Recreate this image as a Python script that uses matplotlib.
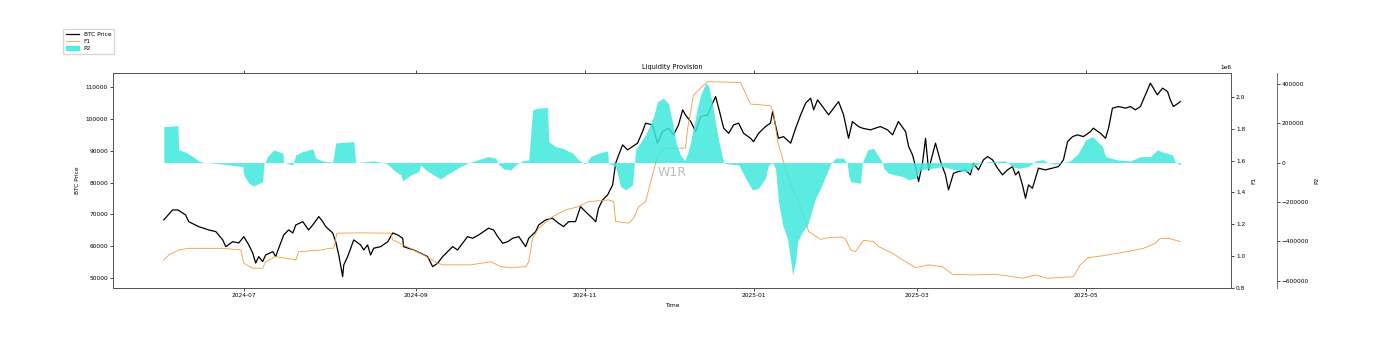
import pandas as pd
import matplotlib
matplotlib.use("Agg")
import matplotlib.pyplot as plt
import matplotlib.dates as mdates
from matplotlib.patches import Patch
from matplotlib.lines import Line2D

# --- data (days counted from start_date) ---
start_date = pd.Timestamp("2024-06-02")

btc_day = [0, 3.2, 5.1, 7.9, 9.0, 12.6, 16.2, 18.8, 21.3, 22.4, 24.9, 27.1, 28.9, 30.7,
           32.1, 33.2, 34.3, 35.7, 36.8, 39.4, 40.4, 41.5, 43.3, 45.1, 46.6, 47.7, 50.2,
           52.3, 53.8, 56.0, 57.4, 58.5, 61.0, 62.1, 63.2, 64.6, 65.0, 66.4, 67.5, 68.6,
           71.1, 72.2, 73.6, 74.7, 75.8, 78.3, 80.9, 82.7, 84.5, 86.3, 86.6, 88.4, 90.3,
           92.8, 95.3, 97.1, 98.9, 100.7, 102.5, 104.3, 106.1, 107.9, 109.7, 111.6, 113.7,
           115.5, 117.3, 119.1, 120.6, 122.4, 124.2, 126.0, 128.2, 130.7, 131.8, 134.3,
           135.4, 137.9, 140.4, 142.6, 144.4, 146.2, 148.7, 150.5, 152.3, 154.2, 156.0,
           157.0, 158.5, 160.3, 162.1, 163.2, 164.3, 165.7, 167.5, 169.3, 171.1, 172.9,
           174.0, 176.5, 178.3, 180.1, 182.3, 184.1, 185.9, 187.4, 188.4, 190.3, 192.1,
           193.9, 196.4, 198.2, 199.3, 200.4, 202.2, 204.0, 205.8, 207.6, 209.4, 211.9,
           213.0, 214.8, 217.3, 219.1, 219.9, 220.9, 222.0, 223.8, 226.4, 228.2, 230.0,
           231.8, 233.6, 234.7, 236.1, 237.9, 240.1, 241.9, 243.7, 245.5, 247.3, 248.7,
           250.9, 252.3, 255.2, 257.0, 258.8, 261.4, 263.2, 265.3, 267.9, 269.0, 270.4,
           271.5, 272.6, 274.0, 275.1, 276.2, 277.6, 278.7, 280.5, 282.3, 283.4, 285.2,
           287.0, 289.5, 291.3, 292.4, 294.2, 296.0, 297.5, 299.3, 301.1, 302.9, 304.7,
           306.5, 307.6, 308.7, 310.1, 311.2, 312.3, 313.7, 314.8, 315.9, 318.4, 320.9,
           323.1, 324.9, 326.4, 328.2, 330.0, 332.1, 334.7, 335.7, 338.3, 340.1, 341.2,
           342.6, 344.8, 347.3, 349.1, 350.9, 352.7, 354.5, 356.3, 357.4, 358.8, 360.7,
           362.5, 363.5, 364.6, 366.4, 367.1]
btc_price = [68240, 71380, 71380, 69800, 67700, 66130, 65100, 64560, 61950, 59840, 61400,
             61000, 62990, 60380, 57860, 54700, 56700, 55130, 57230, 58270, 56700, 59340,
             63500, 65100, 64150, 66660, 67700, 65100, 66660, 69280, 67700, 66130, 64150,
             61400, 57230, 50420, 54090, 56700, 59340, 61950, 60380, 58800, 60380, 57230,
             59340, 59840, 61400, 64150, 63500, 62480, 59840, 59340, 58800, 57770, 56700,
             53560, 54620, 56700, 58270, 59840, 58800, 60900, 62990, 62480, 63500, 64560,
             65630, 65100, 62990, 60900, 61400, 62480, 62990, 59840, 62480, 64560, 66660,
             68240, 68770, 67180, 66130, 67700, 67700, 72420, 70850, 69280, 67700, 71900,
             74530, 76100, 79250, 86070, 88680, 91820, 90250, 91290, 92360, 96000, 98650,
             98110, 92360, 96000, 97080, 94970, 98110, 102830, 101260, 99150, 96000, 100720,
             101260, 104940, 107010, 103360, 97080, 95470, 98110, 98650, 95470, 93900,
             92830, 95470, 97580, 98650, 102330, 98110, 93900, 94430, 92360, 97080, 101260,
             104940, 106510, 102830, 105970, 103880, 101260, 103360, 105440, 101260, 93900,
             99150, 97580, 97080, 96540, 97080, 97580, 96540, 94970, 99150, 96000, 91290,
             88680, 85000, 80280, 86070, 93900, 83960, 88680, 92360, 86660, 82390, 77670,
             82920, 83460, 83960, 82390, 86070, 83960, 87110, 88140, 87110, 84510, 82390,
             83960, 85000, 82390, 83460, 79250, 75060, 79250, 78210, 81350, 84510, 83960,
             84510, 85000, 87110, 92830, 94430, 94970, 94430, 96000, 97080, 95470, 93900,
             97080, 103360, 103880, 103360, 103880, 102830, 103880, 107550, 111230, 109650,
             107550, 109650, 108590, 105970, 103880, 104940, 105440]

f1_day = [0, 1.8, 5.4, 9.0, 21.3, 27.8, 28.9, 32.1, 35.7, 36.8, 40.4, 47.7, 48.7, 57.4,
          59.6, 61.4, 62.5, 71.1, 81.9, 82.7, 86.6, 93.9, 98.9, 101.1, 110.8, 118.1, 121.7,
          125.3, 130.7, 131.8, 133.2, 135.4, 140.4, 145.1, 149.8, 153.4, 160.6, 162.5, 163.2,
          167.9, 169.7, 171.5, 174.0, 176.5, 178.3, 180.1, 182.3, 188.4, 189.2, 191.3, 196.4,
          208.3, 211.9, 219.1, 220.2, 221.7, 223.8, 226.4, 229.2, 231.0, 232.9, 234.7, 237.2,
          239.7, 244.4, 246.2, 248.0, 249.8, 252.7, 256.3, 258.1, 263.2, 266.8, 271.5, 276.2,
          281.2, 284.8, 292.1, 300.4, 306.5, 310.1, 314.8, 319.1, 328.5, 331.0, 333.9, 340.8,
          348.0, 353.8, 358.1, 359.9, 362.9, 367.1]
f1_value = [0.976, 1.007, 1.039, 1.049, 1.049, 1.039, 0.955, 0.924, 0.924, 0.965, 0.997,
            0.976, 1.028, 1.039, 1.049, 1.050, 1.144, 1.146, 1.144, 1.102, 1.070, 1.007,
            0.955, 0.945, 0.945, 0.965, 0.934, 0.928, 0.934, 0.965, 1.112, 1.175, 1.248,
            1.290, 1.311, 1.342, 1.353, 1.342, 1.217, 1.207, 1.238, 1.311, 1.342, 1.510,
            1.625, 1.667, 1.678, 1.678, 1.800, 2.013, 2.096, 2.090, 1.955, 1.945, 1.900,
            1.719, 1.594, 1.447, 1.342, 1.259, 1.154, 1.133, 1.105, 1.115, 1.120, 1.110,
            1.039, 1.028, 1.100, 1.091, 1.060, 1.018, 0.976, 0.928, 0.945, 0.934, 0.886,
            0.882, 0.886, 0.871, 0.861, 0.882, 0.861, 0.871, 0.945, 0.990, 1.007, 1.028,
            1.049, 1.081, 1.112, 1.112, 1.091]
f1_value = [v * 1e6 for v in f1_value]

p2_day = [0, 5.1, 5.4, 7.9, 10.5, 12.6, 14.1, 21.3, 28.5, 28.9, 30.7, 32.5, 35.7, 36.1,
          37.5, 39.7, 43.0, 43.3, 46.6, 47.7, 50.2, 53.8, 54.9, 57.4, 61.0, 62.1, 68.6,
          69.3, 75.8, 79.4, 81.2, 83.0, 85.6, 86.3, 89.2, 92.1, 92.8, 94.6, 97.5, 100.0,
          102.5, 106.1, 109.7, 113.4, 117.0, 119.9, 120.9, 122.7, 125.3, 127.1, 129.6,
          131.8, 133.2, 135.0, 138.6, 139.0, 141.5, 144.0, 147.7, 149.8, 152.3, 154.2,
          157.0, 160.3, 160.6, 163.2, 165.0, 166.8, 169.3, 170.4, 174.0, 176.9, 178.3,
          180.5, 182.3, 183.8, 185.2, 186.6, 188.1, 189.2, 190.3, 192.8, 193.9, 195.7,
          196.8, 198.2, 200.0, 201.8, 202.5, 207.6, 208.3, 210.8, 212.6, 214.8, 217.3,
          218.4, 219.9, 220.9, 222.0, 223.5, 225.3, 227.1, 228.2, 228.9, 230.7, 232.5,
          233.6, 235.4, 237.2, 239.7, 240.8, 242.6, 245.5, 246.9, 247.3, 248.0, 251.6,
          252.3, 254.2, 256.3, 257.8, 259.6, 260.0, 261.7, 264.3, 266.8, 269.0, 271.5,
          273.3, 277.6, 281.2, 285.9, 290.6, 293.1, 297.8, 304.0, 306.5, 308.7, 312.3,
          314.8, 317.7, 319.1, 322.0, 324.9, 327.4, 330.3, 332.9, 335.4, 337.2, 339.0,
          340.1, 344.4, 349.1, 352.7, 356.3, 358.8, 361.0, 364.3, 365.4, 367.1]
p2_value = [183000, 188000, 65000, 53000, 30500, 8700, 2000, -8000, -20000, -62000,
            -105000, -119000, -97000, -12000, 30000, 65000, 48000, 2000, -12000, 39000,
            56000, 70000, 22000, 8700, 2000, 100000, 107000, 0, 8700, 0, -12000, -37000,
            -63000, -93000, -63000, -46000, -12000, -37000, -63000, -83000, -59000, -28500,
            -3000, 13700, 30500, 22400, -8000, -32000, -37000, -12000, 8700, 13700, 268000,
            277000, 280000, 107000, 81500, 73000, 48000, 13700, -8000, 30500, 48000, 60000,
            0, -20000, -122000, -139000, -113000, 65000, 141000, 234000, 310000, 328000,
            300000, 200000, 90000, 40000, 10000, 48000, 107000, 285000, 345000, 404000,
            390000, 294000, 141000, 22000, -5000, -12000, -28500, -97000, -139000, -130000,
            -79000, -12000, -3000, -28500, -198000, -317000, -390000, -572000, -504000,
            -402000, -351000, -317000, -266000, -181000, -130000, -46000, -8000, 22400,
            22400, -8000, -63000, -97000, -105000, 0, 65000, 73000, 39000, 0, -28500,
            -54000, -63000, -71000, -88000, -79000, -37000, -28500, -20400, -37000, -46000,
            -12000, 5000, 8700, -20400, -28500, -20400, 8700, 15000, 0, -8000, 0, 8700,
            48000, 115000, 132000, 107000, 81500, 30500, 13700, 8700, 30500, 30500, 65000,
            53000, 39000, 0, -12000]

btc_dates = start_date + pd.to_timedelta(btc_day, unit="D")
f1_dates = start_date + pd.to_timedelta(f1_day, unit="D")
p2_dates = start_date + pd.to_timedelta(p2_day, unit="D")

fs = 4.2
plt.rcParams["font.size"] = fs
p2_color = "#3ee8dc"

fig = plt.figure(figsize=(13.74, 3.42), dpi=100)
ax1 = fig.add_axes([0.0822, 0.158, 0.8138, 0.629])

ax1.plot(btc_dates, btc_price, color="black", lw=0.9)
ax1.set_ylim(46855, 114465)
ax1.set_ylabel("BTC Price", fontsize=fs)
ax1.set_xlabel("Time", fontsize=fs)
ax1.set_title("Liquidity Provision", fontsize=fs + 0.6, pad=3)
ax1.xaxis.set_major_locator(mdates.MonthLocator(bymonth=[1, 3, 5, 7, 9, 11]))
ax1.xaxis.set_major_formatter(mdates.DateFormatter("%Y-%m"))
ax1.tick_params(labelsize=fs, length=2, width=0.5, pad=1.5)
ax1.tick_params(axis="x", top=True)

ax2 = ax1.twinx()
ax2.plot(f1_dates, f1_value, color="#f59a3c", lw=0.6)
ax2.set_ylim(0.8e6, 2.151e6)
ax2.set_ylabel("F1", fontsize=fs)
ax2.tick_params(labelsize=fs, length=2, width=0.5, pad=1.5)
ax2.yaxis.get_offset_text().set_fontsize(fs)

ax3 = ax1.twinx()
ax3.spines["right"].set_position(("axes", 1.041))
ax3.fill_between(p2_dates, p2_value, 0, color=p2_color, alpha=0.85, lw=0)
ax3.set_ylim(-637900, 456700)
ax3.set_ylabel("P2", fontsize=fs)
ax3.tick_params(labelsize=fs, length=2, width=0.5, pad=1.5)

for ax in (ax1, ax2, ax3):
    for sp in ax.spines.values():
        sp.set_linewidth(0.6)
        sp.set_color("#555555")

fig.text(0.489, 0.497, "W1R", fontsize=9, color="#aaaaaa", alpha=0.8,
         ha="center", va="center")

handles = [Line2D([], [], color="black", lw=0.9),
           Line2D([], [], color="#f59a3c", lw=0.6),
           Patch(color=p2_color, alpha=0.85)]
fig.legend(handles, ["BTC Price", "F1", "P2"], loc="upper left",
           bbox_to_anchor=(0.044, 0.925), fontsize=fs, frameon=True,
           handlelength=2.2, borderpad=0.5, labelspacing=0.35)

fig.savefig("out.png", dpi=100)
